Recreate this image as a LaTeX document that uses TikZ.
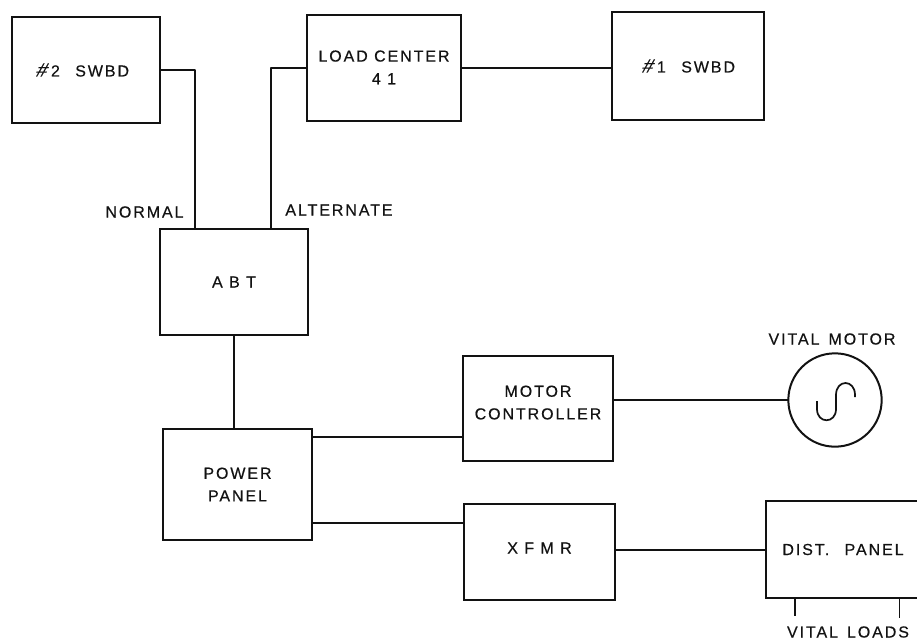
\documentclass[tikz,border=0pt]{standalone}
\usepackage{fontspec}
\setmainfont{Liberation Sans}
\newfontfamily\letterfont[LetterSpace=12,FakeBold=0.5]{Liberation Sans}
\newfontfamily\hashfont[FakeSlant=0.35,FakeBold=0.5,Scale=1.2]{Liberation Sans}
\usepackage{xcolor}
\usetikzlibrary{positioning, calc}
\definecolor{inkblack}{RGB}{18,18,18}

\begin{document}
\begin{tikzpicture}[
  x=0.75pt, y=-0.75pt,
  unit/.style={draw=inkblack, line width=1.5pt, outer sep=0pt, align=center, text=inkblack, font=\letterfont\fontsize{12}{17}\selectfont},
  tag/.style={text=inkblack, inner sep=0pt, font=\letterfont\fontsize{12}{17}\selectfont},
  wire/.style={draw=inkblack, line width=1.5pt, line join=round}
]
\useasboundingbox (0,0) rectangle (917,640);
\clip (0,0) rectangle (917,640);

% Top row
\node[unit, minimum width=111pt, minimum height=80pt] (swbdtwo) at (86,70) {{\hashfont\#}\,\,2\ \ \,SWBD\hspace{6pt}};
\node[unit, minimum width=115pt, minimum height=79pt, text depth=1pt] (loadcenter) at (384,68) {LOAD CENTER\\4 1};
\node[unit, minimum width=114pt, minimum height=81pt] (swbdone) at (688,66) {{\hashfont\#}\,\,1\ \ \,SWBD};

% Left column
\node[unit, minimum width=111pt, minimum height=80pt] (abt) at (234,282) {A B T};
\node[unit, minimum width=112pt, minimum height=83pt] (powerpanel) at (237.5,484.5) {POWER\\PANEL};

% Middle column
\node[unit, minimum width=112pt, minimum height=79pt, text depth=9pt] (controller) at (538,408.5) {MOTOR\\CONTROLLER};
\node[unit, minimum width=113pt, minimum height=72pt, text depth=6pt] (xfmr) at (539.5,552) {X F M R};

% Right column, panel runs off the edge
\node[unit, minimum width=116pt, minimum height=73pt] (distpanel) at (843,549.5) {DIST.\ \ \,PANEL};
\node[draw=inkblack, line width=1.5pt, circle, minimum size=70pt, inner sep=0pt, outer sep=0pt] (motor) at (835,400) {};
\draw[wire, line width=1.3pt] (817,401) -- (817,409)
  .. controls (817,424) and (836,424) .. (836,409) -- (836,395)
  .. controls (836,379) and (855,379) .. (855,395) -- (855,397);

% Labels
\node[tag] (normal) at (144.5,212) {NORMAL};
\node[tag] (alternate) at (339,210) {ALTERNATE};
\node[tag] (vitalmotor) at (832,339) {VITAL\ \,MOTOR};
\node[tag] (vitalloads) at (848,632) {VITAL\ \,LOADS};

% Feeds
\draw[wire] (swbdtwo.east) -| ([xshift=-29.25pt]abt.north);
\draw[wire] (loadcenter.west) -| ([xshift=27.75pt]abt.north);
\draw[wire] (loadcenter.east) -- (loadcenter.east -| swbdone.west);
\draw[wire] (abt.south) -- (abt.south |- powerpanel.north);
\draw[wire] ([yshift=-6pt]powerpanel.north east) -- ([yshift=-6pt]powerpanel.north east -| controller.west);
\draw[wire] ([yshift=12.75pt]powerpanel.south east) -- ([yshift=12.75pt]powerpanel.south east -| xfmr.west);
\draw[wire] (motor.west -| controller.east) -- (motor.west);
\draw[wire] (distpanel.west -| xfmr.east) -- (distpanel.west);

% Load drops
\foreach \drop/\len in {-36/18, 42.5/20} {
  \draw[wire, line width=1.2pt] ([xshift=\drop pt]distpanel.south) -- ++(0,\len);
}

\end{tikzpicture}
\end{document}
